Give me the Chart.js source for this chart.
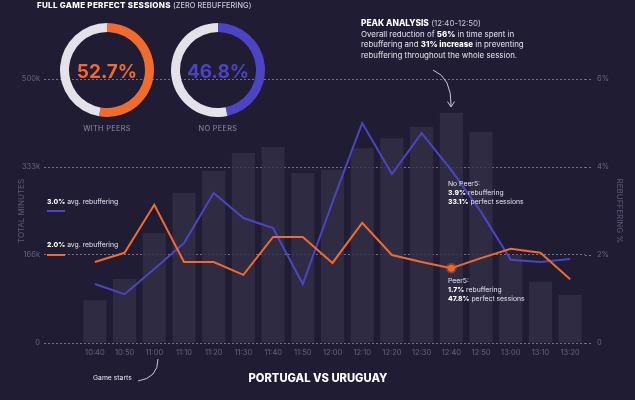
<!DOCTYPE html>
<html>
<head>
<meta charset="utf-8">
<script src="https://cdn.jsdelivr.net/npm/chart.js@4.4.1/dist/chart.umd.min.js"></script>
<style>
  body { margin: 0; background: #1f1c34; }
  #wrap { position: relative; width: 635px; height: 400px; overflow: hidden; background: #1f1c34;
          font-family: Inter, "Noto Sans", sans-serif; color: #ecebf3; }
  #main { position: absolute; left: 0; top: 0; }
  .donut { position: absolute; width: 94px; height: 94px; }
  .abs { position: absolute; white-space: nowrap; }
  .pct { font-size: 19px; font-weight: 700; transform: translate(-50%, -50%); }
  .cap { font-size: 7.4px; color: #8d8aa3; letter-spacing: .3px; transform: translateX(-50%); }
  .note { font-size: 6.8px; line-height: 8.8px; color: #e6e4ee; }
  b { font-weight: 800; color: #fff; }
  svg { position: absolute; left: 0; top: 0; }
</style>
</head>
<body>
<div id="wrap">
  <canvas id="main" width="635" height="400"></canvas>
  <canvas id="donutPeers" class="donut" style="left:60px;top:23px"></canvas>
  <canvas id="donutNoPeers" class="donut" style="left:171px;top:23px"></canvas>

  <div class="abs" style="left:37px;top:0px;font-size:8px;font-weight:800;letter-spacing:.3px;color:#fff">
    FULL GAME PERFECT SESSIONS <span style="font-size:7.3px;font-weight:500;color:#c9c7d6;letter-spacing:.1px">(ZERO REBUFFERING)</span>
  </div>
  <div class="abs pct" id="pctPeers" style="left:107px;top:71px;color:#f26a2c"></div>
  <div class="abs pct" id="pctNoPeers" style="left:218px;top:71px;color:#4a44c2"></div>
  <div class="abs cap" style="left:107px;top:124px">WITH PEERS</div>
  <div class="abs cap" style="left:218px;top:124px">NO PEERS</div>

  <div class="abs" style="left:361px;top:18px;font-size:7.9px;line-height:10.6px;color:#e6e4ee">
    <b style="font-size:8.4px">PEAK ANALYSIS</b> <span style="color:#c9c7d6">(12:40-12:50)</span><br>
    Overall reduction of <b>56%</b> in time spent in<br>
    rebuffering and <b>31% increase</b> in preventing<br>
    rebuffering throughout the whole session.
  </div>

  <div class="abs note" style="left:47px;top:198px"><b>3.0%</b> avg. rebuffering</div>
  <div class="abs note" style="left:47px;top:241px"><b>2.0%</b> avg. rebuffering</div>

  <div class="abs note" style="left:448px;top:180px">No Peer5:<br><b>3.9%</b> rebuffering<br><b>33.1%</b> perfect sessions</div>
  <div class="abs note" style="left:448px;top:277px">Peer5:<br><b>1.7%</b> rebuffering<br><b>47.8%</b> perfect sessions</div>

  <div class="abs note" style="left:93px;top:374px">Game starts</div>
  <div class="abs" style="left:318px;top:371px;transform:translateX(-50%);font-size:11.2px;font-weight:800;color:#fff">PORTUGAL VS URUGUAY</div>

  <svg width="635" height="400">
    <path d="M433,70 Q452,78 451,106" fill="none" stroke="#c9c7d6" stroke-width="1"/>
    <path d="M447.5,101.5 L451,107 L454.5,101.5" fill="none" stroke="#c9c7d6" stroke-width="1"/>
    <path d="M138,381 Q158,378 158,359" fill="none" stroke="#c9c7d6" stroke-width="1"/>
  </svg>
</div>

<script>
// Datos del gráfico
const timeLabels = ['10:40', '10:50', '11:00', '11:10', '11:20', '11:30', '11:40', '11:50', '12:00',
                    '12:10', '12:20', '12:30', '12:40', '12:50', '13:00', '13:10', '13:20'];
const totalMinutes = [81000, 121000, 208000, 284000, 326000, 360000, 371000, 322000, 328000,
                      369000, 388000, 409000, 436000, 400000, 166000, 116000, 91000];
const noPeersRebuffering = [1.34, 1.11, 1.68, 2.27, 3.41, 2.84, 2.61, 1.34, 3.2,
                            5.0, 3.84, 4.77, 3.93, 2.98, 1.89, 1.84, 1.91];
const peersRebuffering = [1.84, 2.05, 3.14, 1.84, 1.84, 1.55, 2.41, 2.41, 1.82,
                          2.73, 2.0, 1.84, 1.7, 1.93, 2.14, 2.05, 1.45];
const minutesTicks = [0, 166667, 333333, 500000];
const minutesTickLabels = ['0', '166k', '333k', '500k'];
const rebufTicks = [0, 2, 4, 6];
const rebufTickLabels = ['0', '2%', '4%', '6%'];
const avgNoPeers = 3.0;
const avgPeers = 2.0;
const perfectPeers = 52.7;
const perfectNoPeers = 46.8;
const peakIndex = 12; // 12:40

const ORANGE = '#f26a2c';
const BLUE = '#4b45c4';
const GRID = 'rgba(200, 198, 220, 0.5)';
const TICK = '#67647f';

Chart.defaults.font.family = 'Inter, "Noto Sans", sans-serif';

// Marcador de promedio en la zona izquierda
const avgMarks = {
  id: 'avgMarks',
  afterDatasetsDraw(chart) {
    const ctx = chart.ctx;
    const y1 = chart.scales.y1;
    ctx.save();
    ctx.lineWidth = 2;
    [[avgNoPeers, BLUE], [avgPeers, ORANGE]].forEach(([v, c]) => {
      const y = y1.getPixelForValue(v);
      ctx.strokeStyle = c;
      ctx.beginPath();
      ctx.moveTo(47, y);
      ctx.lineTo(65, y);
      ctx.stroke();
    });
    ctx.restore();
  }
};

new Chart(document.getElementById('main'), {
  data: {
    labels: timeLabels,
    datasets: [
      {
        type: 'line',
        label: 'No Peer5',
        data: noPeersRebuffering,
        yAxisID: 'y1',
        borderColor: BLUE,
        borderWidth: 2,
        pointRadius: 0,
        tension: 0,
        order: 1
      },
      {
        type: 'line',
        label: 'Peer5',
        data: peersRebuffering,
        yAxisID: 'y1',
        borderColor: ORANGE,
        borderWidth: 2,
        pointRadius: timeLabels.map((_, i) => i === peakIndex ? 3.5 : 0),
        pointBackgroundColor: ORANGE,
        pointBorderColor: 'rgba(242, 106, 44, 0.35)',
        pointBorderWidth: 4,
        tension: 0,
        order: 0
      },
      {
        type: 'bar',
        label: 'Total minutes',
        data: totalMinutes,
        yAxisID: 'y',
        backgroundColor: 'rgba(50, 47, 70, 0.8)',
        barPercentage: 0.78,
        categoryPercentage: 1,
        order: 2
      }
    ]
  },
  options: {
    responsive: false,
    animation: false,
    layout: { padding: { top: 79, left: 0, right: 0, bottom: 0 } },
    plugins: { legend: { display: false }, tooltip: { enabled: false } },
    scales: {
      x: {
        grid: { display: false, drawTicks: false },
        border: { display: false },
        ticks: { color: TICK, font: { size: 7.5 }, padding: 5, maxRotation: 0, autoSkip: false },
        afterFit(scale) { scale.height = 57; }
      },
      y: {
        position: 'left',
        min: 0,
        max: 500000,
        afterBuildTicks(scale) { scale.ticks = minutesTicks.map(v => ({ value: v })); },
        ticks: {
          color: TICK, font: { size: 7.5 }, padding: 4,
          callback: (v, i) => minutesTickLabels[i]
        },
        grid: { color: GRID, lineWidth: 1, tickLength: 36, tickColor: GRID, tickBorderDash: [2, 2] },
        border: { display: false, dash: [2, 2] },
        title: { display: true, text: 'TOTAL MINUTES', color: '#5d5a78', font: { size: 8 }, padding: { top: 17 } },
        afterFit(scale) { scale.width = 80; }
      },
      y1: {
        position: 'right',
        min: 0,
        max: 6,
        afterBuildTicks(scale) { scale.ticks = rebufTicks.map(v => ({ value: v })); },
        ticks: {
          color: TICK, font: { size: 7.5 }, padding: 4,
          callback: (v, i) => rebufTickLabels[i]
        },
        grid: { drawOnChartArea: false, tickLength: 8, tickColor: GRID, tickBorderDash: [2, 2] },
        border: { display: false },
        title: { display: true, text: 'REBUFFERING %', color: '#5d5a78', font: { size: 8 }, padding: { top: 11 } },
        afterFit(scale) { scale.width = 50; }
      }
    }
  },
  plugins: [avgMarks]
});

// Anillos de sesiones perfectas
function anillo(id, valor, color) {
  document.getElementById(id === 'donutPeers' ? 'pctPeers' : 'pctNoPeers').textContent = valor.toFixed(1) + '%';
  return new Chart(document.getElementById(id), {
    type: 'doughnut',
    data: {
      labels: ['Perfect', 'Rest'],
      datasets: [{
        data: [valor, 100 - valor],
        backgroundColor: [color, '#e4e2e8'],
        borderWidth: 0
      }]
    },
    options: {
      responsive: false,
      animation: false,
      cutout: 38,
      plugins: { legend: { display: false }, tooltip: { enabled: false } }
    }
  });
}

anillo('donutPeers', perfectPeers, ORANGE);
anillo('donutNoPeers', perfectNoPeers, BLUE);
</script>
</body>
</html>
